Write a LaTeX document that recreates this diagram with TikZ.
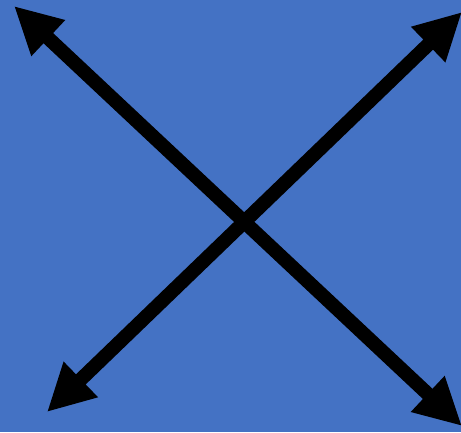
\documentclass[tikz,border=0pt]{standalone}
\usetikzlibrary{arrows.meta}
\definecolor{bgblue}{RGB}{68,114,196}
\tikzset{
  bigarrow/.style={draw=black, line width=14pt,
    {Triangle[length=47pt,width=46pt]}-{Triangle[length=47pt,width=46pt]}}
}
\begin{document}
\begin{tikzpicture}[x=1pt,y=-1pt]
  \fill[bgblue] (0,0) rectangle (461,432);
  \useasboundingbox (0,0) rectangle (461,432);
  \clip (0,0) rectangle (461,432);
  \coordinate (tl) at (14,6);
  \coordinate (br) at (462,426);
  \coordinate (tr) at (462,12);
  \coordinate (bl) at (47,412);
  \draw[bigarrow] (tl) -- (br);
  \draw[bigarrow] (tr) -- (bl);
\end{tikzpicture}
\end{document}
